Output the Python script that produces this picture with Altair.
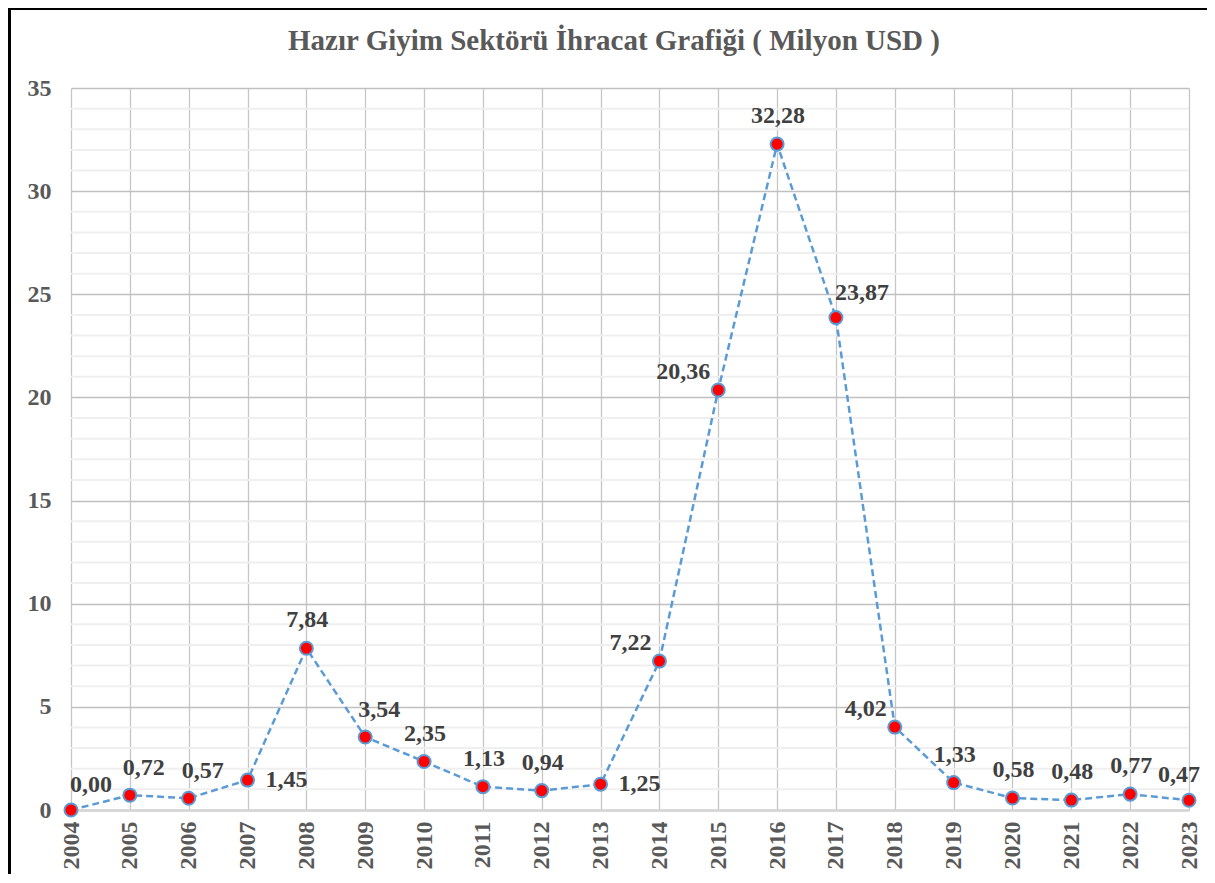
import altair as alt
import pandas as pd

years = [str(y) for y in range(2004, 2024)]
values = [0.00, 0.72, 0.57, 1.45, 7.84, 3.54, 2.35, 1.13, 0.94, 1.25,
          7.22, 20.36, 32.28, 23.87, 4.02, 1.33, 0.58, 0.48, 0.77, 0.47]
labels = ["0,00", "0,72", "0,57", "1,45", "7,84", "3,54", "2,35", "1,13", "0,94", "1,25",
          "7,22", "20,36", "32,28", "23,87", "4,02", "1,33", "0,58", "0,48", "0,77", "0,47"]
label_place = ["topright", "topr", "topr", "right", "top", "topr", "top", "top", "top", "right",
               "left", "left", "top", "topright", "left", "top", "top", "top", "top", "topl"]
major_ticks = [0, 5, 10, 15, 20, 25, 30, 35]
minor_ticks = [v for v in range(0, 36) if v % 5 != 0]
title_text = "Hazır Giyim Sektörü İhracat Grafiği ( Milyon USD )"

df = pd.DataFrame({"year": years, "value": values, "label": labels, "place": label_place})

FONT = "Liberation Serif"
W, H = 1118, 722

y_scale = alt.Scale(domain=[0, 35], nice=False, zero=True)
x_enc = alt.X("year:O", scale=alt.Scale(type="point", padding=0),
              axis=alt.Axis(title=None, labelAngle=-90, labelFont=FONT, labelFontSize=24,
                            labelFontWeight="bold", labelColor="#595959", ticks=False,
                            labelPadding=11, grid=True, gridColor="#C6C6C6", gridWidth=1.3,
                            domainColor="#D4D4D4", domainWidth=2.5))
y_axis = alt.Axis(title=None, values=major_ticks, labelFont=FONT, labelFontSize=24,
                  labelFontWeight="bold", labelColor="#595959", ticks=False,
                  domain=False, labelPadding=20, gridColor="#C0C0C0", gridWidth=1.3)
y_enc = alt.Y("value:Q", scale=y_scale, axis=y_axis)

base = alt.Chart(df)

minor = alt.Chart(pd.DataFrame({"value": minor_ticks})).mark_rule(
    color="#EFEFEF", strokeWidth=2).encode(y=y_enc)

line = base.mark_line(color="#5B9BD5", strokeWidth=2.5, strokeDash=[7, 4]).encode(x=x_enc, y=y_enc)
points = base.mark_point(shape="circle", filled=True, fill="#FF0000", stroke="#5B9BD5",
                         strokeWidth=2, size=170, opacity=1).encode(x=x_enc, y=y_enc)

def lbl(place, align, dx, dy):
    return base.transform_filter(alt.datum.place == place).mark_text(
        font=FONT, fontSize=24, fontWeight="bold", color="#404040",
        align=align, baseline="middle", dx=dx, dy=dy
    ).encode(x="year:O", y="value:Q", text="label:N")

t_top = lbl("top", "center", 1, -28)
t_topr = lbl("topr", "center", 14, -27)
t_topl = lbl("topl", "center", -10, -25)
t_right = lbl("right", "left", 18, 0)
t_left = lbl("left", "right", -8, -18)
t_tr = lbl("topright", "left", -1, -25)

title = alt.Chart(pd.DataFrame({"t": [title_text]})).mark_text(
    font=FONT, fontSize=29, fontWeight="bold", color="#595959", align="center", baseline="middle"
).encode(text="t:N", x=alt.value(614 - 71), y=alt.value(41 - 88))

frame_left = alt.Chart(pd.DataFrame({"a": [0]})).mark_rule(color="#000000", strokeWidth=3).encode(
    x=alt.value(9.5 - 71), y=alt.value(-80), y2=alt.value(883 - 88))
frame_top = alt.Chart(pd.DataFrame({"a": [0]})).mark_rule(color="#000000", strokeWidth=3).encode(
    x=alt.value(8 - 71), x2=alt.value(1207 - 71), y=alt.value(-79.5))

chart = alt.layer(minor, line, points, t_top, t_topr, t_topl, t_right, t_left, t_tr,
                  title, frame_left, frame_top).properties(
    width=W, height=H,
    autosize=alt.AutoSizeParams(type="none"),
    padding={"left": 63, "top": 80, "right": 18, "bottom": 64},
    background="white",
).configure_view(stroke=None)

chart.save("out.html", embed_options={"renderer": "svg", "actions": False})
